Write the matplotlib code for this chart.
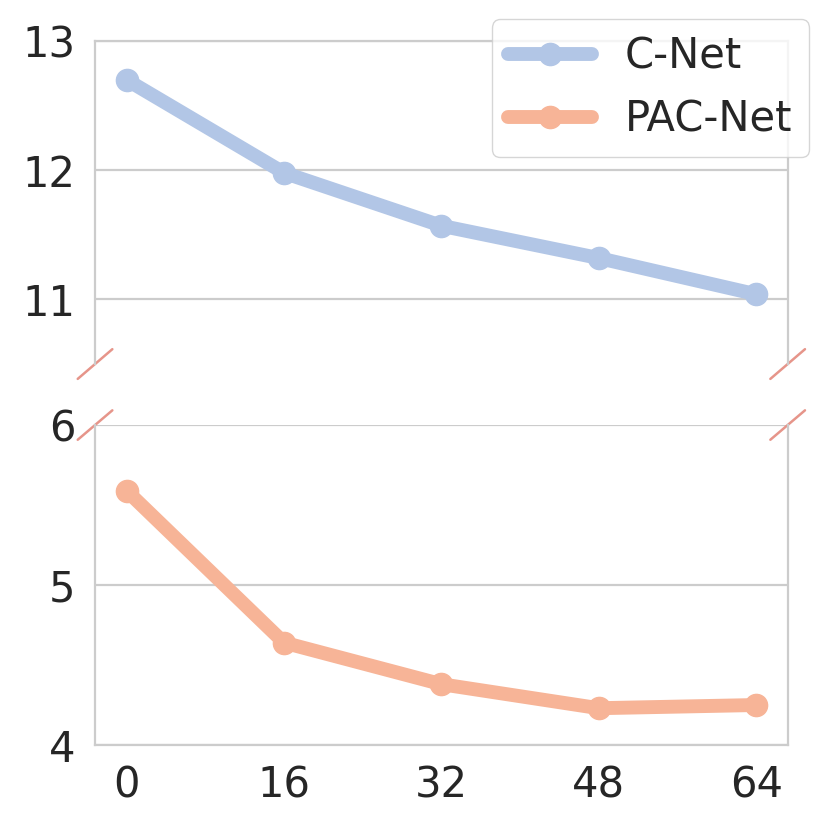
import matplotlib.pyplot as plt
import seaborn as sns

# data
x_vals = [0, 16, 32, 48, 64]
cnet = [12.70, 11.98, 11.57, 11.32, 11.04]
pacnet = [5.59, 4.64, 4.38, 4.23, 4.25]

sns.set_theme(style="whitegrid")
plt.rcParams['font.family'] = ['DejaVu Sans']

c_blue = '#b2c6e6'
c_orange = '#f7b497'
c_break = '#e6958a'

fig = plt.figure(figsize=(8.3, 8.3), dpi=100)
ax_top = fig.add_axes([0.1145, 0.5614, 0.8345, 0.3892])
ax_bot = fig.add_axes([0.1145, 0.1024, 0.8345, 0.3855])

ax_top.plot(x_vals, cnet, marker='o', color=c_blue, lw=10, markersize=16, label='C-Net')
ax_top.plot([], [], marker='o', color=c_orange, lw=10, markersize=16, label='PAC-Net')
ax_bot.plot(x_vals, pacnet, marker='o', color=c_orange, lw=10, markersize=16, label='PAC-Net')

ax_top.set_ylim(10.5, 13)
ax_bot.set_ylim(4, 6)
ax_top.set_yticks([11, 12, 13])
ax_bot.set_yticks([4, 5, 6])
for ax in (ax_top, ax_bot):
    ax.set_xlim(-3.2, 67.2)
    ax.set_xticks(x_vals)
    ax.grid(axis='x', visible=False)
    ax.grid(axis='y', color='#cccccc', lw=1.6)
    ax.tick_params(labelsize=30, length=0, pad=14, colors='#262626')
    for s in ax.spines.values():
        s.set_color('#cccccc')
        s.set_linewidth(1.6)

ax_top.spines['bottom'].set_visible(False)
ax_bot.spines['top'].set_visible(False)
ax_top.tick_params(labelbottom=False)

# break marks
dx, dy = 0.025, 0.046
kw = dict(color=c_break, lw=1.8, clip_on=False)
ax_top.plot((-dx, dx), (-dy, dy), transform=ax_top.transAxes, **kw)
ax_top.plot((1 - dx, 1 + dx), (-dy, dy), transform=ax_top.transAxes, **kw)
ax_bot.plot((-dx, dx), (1 - dy, 1 + dy), transform=ax_bot.transAxes, **kw)
ax_bot.plot((1 - dx, 1 + dx), (1 - dy, 1 + dy), transform=ax_bot.transAxes, **kw)

leg = ax_top.legend(loc='upper right', bbox_to_anchor=(1.061, 1.132), fontsize=30,
                    handlelength=2.0, framealpha=0.8)
leg.get_frame().set_edgecolor('#cccccc')

fig.savefig('out.png', dpi=100)
